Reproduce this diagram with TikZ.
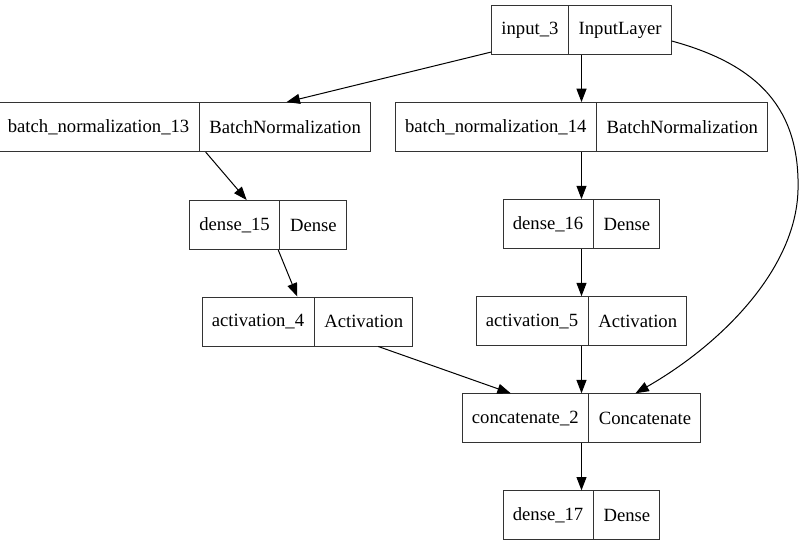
\documentclass[tikz,border=0pt]{standalone}
\usepackage{fontspec}
\setmainfont{Liberation Serif}
\usetikzlibrary{positioning, arrows.meta, shapes.multipart}
\definecolor{boxline}{HTML}{333333}
\tikzset{
  layer/.style={rectangle split, rectangle split horizontal, rectangle split parts=2,
                draw=boxline, line width=0.75pt, inner xsep=7.2pt, inner ysep=0pt,
                minimum height=36.75pt, font=\fontsize{14pt}{16pt}\selectfont},
  link/.style={-{Triangle[length=10pt, width=7.5pt]}, line width=0.75pt},
}

\begin{document}
\begin{tikzpicture}[x=0.75pt, y=-0.75pt, node distance=35.3pt]
  \useasboundingbox (0,0) rectangle (804,547);
  % right column
  \node[layer] (in3) at (581.5,30) {input\_3\nodepart{two}InputLayer};
  \node[layer, below=of in3] (bn14)
        {batch\_normalization\_14\nodepart{two}BatchNormalization};
  \node[layer, below=of bn14] (d16) {dense\_16\nodepart{two}Dense};
  \node[layer, below=of d16] (a5) {activation\_5\nodepart{two}Activation};
  \node[layer, below=of a5] (cat) {concatenate\_2\nodepart{two}Concatenate};
  \node[layer, below=of cat] (d17) {dense\_17\nodepart{two}Dense};
  % left column
  \node[layer, left=18pt of bn14] (bn13)
        {batch\_normalization\_13\nodepart{two}BatchNormalization};
  \node[layer] (d15) at (268,225) {dense\_15\nodepart{two}Dense};
  \node[layer] (a4) at (307.5,321.5) {activation\_4\nodepart{two}Activation};
  \draw[link] (in3) -- (bn13);
  \draw[link] (in3) -- (bn14);
  \draw[link] (bn13) -- (d15);
  \draw[link] (bn14) -- (d16);
  \draw[link] (d15) -- (a4);
  \draw[link] (d16) -- (a5);
  \draw[link] (a4) -- (cat);
  \draw[link] (a5) -- (cat);
  \draw[link] (cat) -- (d17);
  % skip connection
  \coordinate (bend) at (798,190);
  \draw[link] ([yshift=-8.25pt]in3.east) .. controls (760,65) and (800,110) .. (bend)
        .. controls (796,270) and (720,345) .. ([xshift=40.5pt]cat.north);
\end{tikzpicture}
\end{document}
